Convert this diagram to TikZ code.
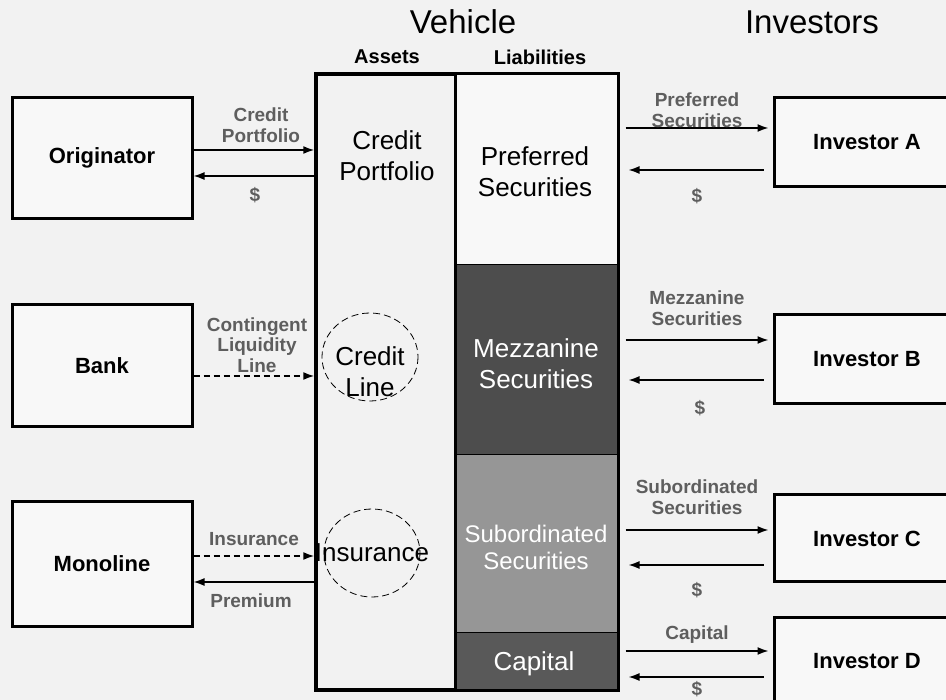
\documentclass[tikz,border=0pt]{standalone}
\usepackage{fontspec}
\setmainfont{Liberation Sans}
\usetikzlibrary{arrows.meta,shapes}

\definecolor{bgcol}{HTML}{F2F2F2}
\definecolor{boxcol}{HTML}{F8F8F8}
\definecolor{labelcol}{HTML}{5E5E5E}
\definecolor{mezzcol}{HTML}{4D4D4D}
\definecolor{subcol}{HTML}{969696}
\definecolor{capcol}{HTML}{595959}

\begin{document}
\begin{tikzpicture}[x=1pt,y=-1pt,>={Latex[length=11pt,width=8pt]},
                    party/.style={draw,line width=3pt,fill=boxcol,minimum width=180pt,
                                  font=\fontsize{22}{25}\selectfont\bfseries},
                    tranche/.style={draw,line width=1pt,minimum width=162pt},
                    big/.style={align=center,font=\fontsize{26}{31}\selectfont},
                    flow/.style={align=center,text=labelcol,
                                 font=\fontsize{19}{20.5}\selectfont\bfseries},
                    pay/.style={->,line width=1.6pt},
                    soft/.style={dash pattern=on 6pt off 4pt},
                    head/.style={font=\fontsize{20}{24}\selectfont\bfseries}]

  \clip (0,0) rectangle (946,700);
  \fill[bgcol] (0,0) rectangle (946,700);

  % parties on the left
  \node[party,minimum height=121pt] (orig) at (102,158) {Originator};
  \node[party,minimum height=122pt] (bank) at (102,366) {Bank};
  \node[party,minimum height=124pt] (mono) at (102,564) {Monoline};

  % vehicle
  \node[draw,line width=3.5pt,fill=bgcol,minimum width=140pt,minimum height=616pt]
        (assets) at (386,382) {};
  \node[tranche,fill=boxcol,minimum height=191pt]  (pref) at (537,169.5) {};
  \node[tranche,fill=mezzcol,minimum height=190pt] (mezz) at (537,360) {};
  \node[tranche,fill=subcol,minimum height=177pt]  (sub)  at (537,543.5) {};
  \node[tranche,fill=capcol,minimum height=58pt]   (cap)  at (537,661) {};
  \draw[line width=3.5pt] (pref.north west) rectangle (cap.south east);

  \node[font=\fontsize{33}{36}\selectfont] (veh) at (463,22) {Vehicle};
  \node[font=\fontsize{33}{36}\selectfont] (inv) at (812,22) {Investors};
  \node[head] (asshead) at (387,57) {Assets};
  \node[head] (liahead) at (540,57) {Liabilities};

  \node[big] (cport) at (387,156) {Credit\\Portfolio};
  \node[big] (cline) at (370,372) {Credit\\Line};
  \node[big,inner sep=0pt] (insur) at (372,553) {Insurance};
  \draw[dashed,line width=0.8pt,dash pattern=on 7pt off 4pt] (370,357) ellipse (48 and 44);
  \draw[dashed,line width=0.8pt,dash pattern=on 7pt off 4pt] (372,553) ellipse (48 and 44);

  \node[big] (preftxt) at (535,172) {Preferred\\Securities};
  \node[big,text=white] (mezztxt) at (536,364) {Mezzanine\\Securities};
  \node[big,text=white,font=\fontsize{24}{27}\selectfont] (subtxt) at (536,547) {Subordinated\\Securities};
  \node[big,text=white] (captxt) at (534,664) {Capital};

  % investors
  \node[party,minimum width=186pt,minimum height=89pt] (invA) at (867,142.5) {Investor A};
  \node[party,minimum width=186pt,minimum height=89pt] (invB) at (867,359.5) {Investor B};
  \node[party,minimum width=186pt,minimum height=87pt] (invC) at (867,538.5) {Investor C};
  \node[party,minimum width=186pt,minimum height=88pt] (invD) at (867,661) {Investor D};

  % flows on the left
  \path[pay] (orig.east |- 0,150) edge (assets.west |- 0,150)
             (assets.west |- 0,176) edge (orig.east |- 0,176)
             (bank.east |- 0,376) edge[soft] (assets.west |- 0,376)
             (mono.east |- 0,556) edge[soft] (assets.west |- 0,556)
             (assets.west |- 0,582) edge (mono.east |- 0,582);
  \node[flow] (l1) at (261,125) {Credit\\Portfolio};
  \node[flow] (l2) at (255,195) {\$};
  \node[flow] (l3) at (257,345) {Contingent\\Liquidity\\Line};
  \node[flow] (l4) at (254,539) {Insurance};
  \node[flow] (l5) at (251,601) {Premium};

  % flows on the right
  \path[pay,shorten <=7pt,shorten >=4pt]
        (pref.east |- 0,128) edge (invA.west |- 0,128)
        (mezz.east |- 0,340) edge (invB.west |- 0,340)
        (sub.east |- 0,530)  edge (invC.west |- 0,530)
        (cap.east |- 0,651)  edge (invD.west |- 0,651);
  \path[pay,shorten <=9pt,shorten >=10pt]
        (invA.west |- 0,170) edge (pref.east |- 0,170)
        (invB.west |- 0,380) edge (mezz.east |- 0,380)
        (invC.west |- 0,565) edge (sub.east |- 0,565)
        (invD.west |- 0,677) edge (cap.east |- 0,677);
  \node[flow] (r1) at (697,110) {Preferred\\Securities};
  \node[flow] (r2) at (697,196) {\$};
  \node[flow] (r3) at (697,308) {Mezzanine\\Securities};
  \node[flow] (r4) at (700,408) {\$};
  \node[flow] (r5) at (697,497) {Subordinated\\Securities};
  \node[flow] (r6) at (697,590) {\$};
  \node[flow] (r7) at (697,635) {Capital};
  \node[flow] (r8) at (697,689) {\$};
\end{tikzpicture}
\end{document}
